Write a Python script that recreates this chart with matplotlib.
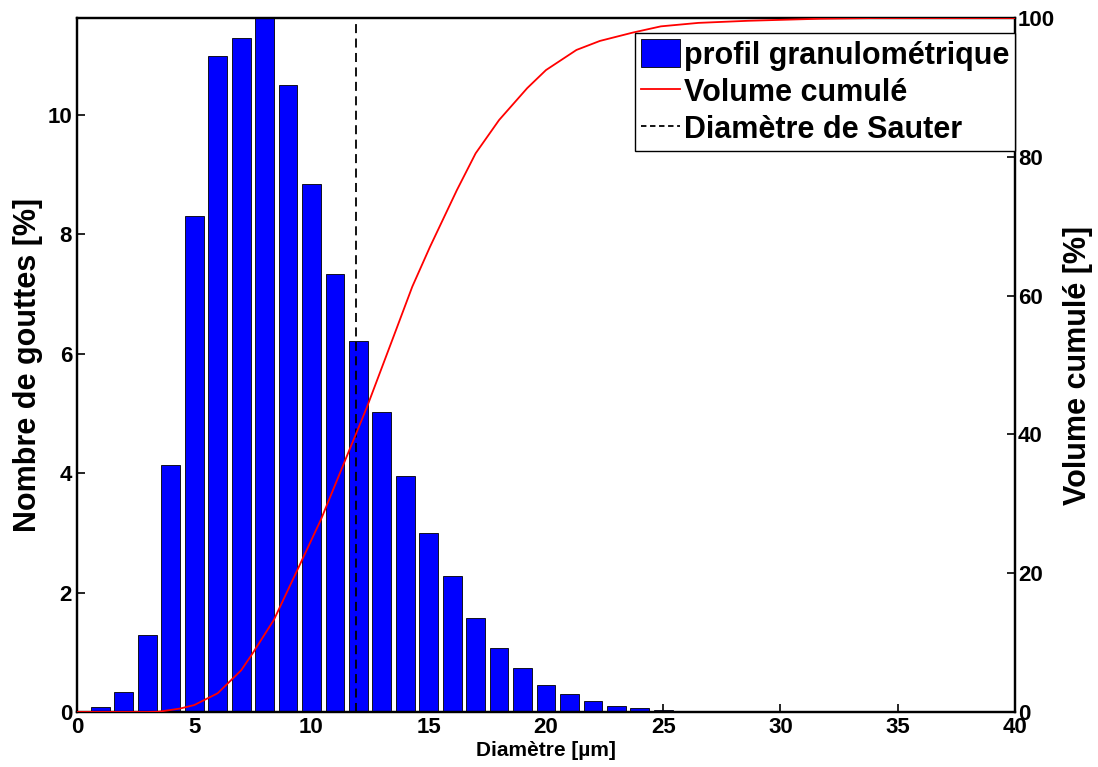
import matplotlib
matplotlib.use('Agg')
import matplotlib.pyplot as plt
from matplotlib.patches import Patch
from matplotlib.lines import Line2D

plt.rcParams['font.family'] = ['Liberation Sans', 'DejaVu Sans']
plt.rcParams['font.weight'] = 'bold'

# histogramme : classe de diamètre (µm) et nombre de gouttes (%)
diametres = list(range(1, 27))
nombre_gouttes = [0.08, 0.34, 1.29, 4.13, 8.30, 10.99, 11.28, 11.62, 10.50, 8.84,
                  7.34, 6.21, 5.03, 3.95, 3.00, 2.28, 1.57, 1.08, 0.73, 0.46,
                  0.30, 0.19, 0.10, 0.06, 0.035, 0.015]

# volume cumulé (%)
x_volume = [0, 3.0, 3.5, 4.4, 5.0, 6.0, 7.0, 7.5, 8.4, 9.5, 10.4, 11.5, 12.35,
            13.5, 14.3, 15.05, 16.2, 17.0, 18.0, 19.2, 20.0, 21.3, 22.3, 23.7,
            24.9, 26.5, 28.6, 31.7, 34.0, 40.0]
volume_cumule = [0, 0, 0.05, 0.5, 1.0, 2.7, 6.0, 8.5, 13.3, 21.2, 27.7, 36.8, 43.8,
                 54.1, 61.3, 67.0, 75.2, 80.5, 85.3, 89.9, 92.5, 95.4, 96.7, 97.9,
                 98.8, 99.3, 99.6, 99.9, 100.0, 100.0]

diametre_sauter = 11.9

fig = plt.figure(figsize=(10.98, 7.67), dpi=100)
ax = fig.add_axes([0.0701, 0.0717, 0.8543, 0.9048])
ax.bar(diametres, nombre_gouttes, width=0.8, color='#0000ff', edgecolor='black',
       linewidth=0.6, zorder=2)
ax.axvline(diametre_sauter, color='black', linestyle='--', linewidth=1.3,
           dashes=(5, 3), zorder=3)
ax.set_xlim(0, 40)
ax.set_ylim(0, max(nombre_gouttes))
ax.set_xticks(range(0, 41, 5))
ax.set_yticks(range(0, 11, 2))
ax.tick_params(direction='in', length=6, width=1.2, labelsize=16)
ax.set_xlabel('Diamètre [µm]', fontsize=15, fontweight='bold', labelpad=2,
              family=['Liberation Sans Narrow', 'Liberation Sans', 'DejaVu Sans'])
ax.set_ylabel('Nombre de gouttes [%]', fontsize=22, fontweight='bold', labelpad=3)

ax2 = ax.twinx()
ax2.plot(x_volume, volume_cumule, color='red', linewidth=1.3, zorder=4)
ax2.set_ylim(0, 100)
ax2.set_yticks(range(0, 101, 20))
ax2.tick_params(direction='in', length=6, width=1.2, labelsize=16, pad=2)
ax2.set_ylabel('Volume cumulé [%]', fontsize=22, fontweight='bold', labelpad=6)

for a in (ax, ax2):
    for s in a.spines.values():
        s.set_linewidth(1.6)

handles = [Patch(facecolor='#0000ff', edgecolor='black', linewidth=0.6),
           Line2D([], [], color='red', linewidth=1.3),
           Line2D([], [], color='black', linestyle='--', linewidth=1.3, dashes=(3, 2))]
labels = ['profil granulométrique', 'Volume cumulé', 'Diamètre de Sauter']
leg = ax2.legend(handles, labels, loc='upper right', bbox_to_anchor=(1.0, 0.978),
                 borderaxespad=0, prop={'weight': 'bold', 'size': 22},
                 fancybox=False, framealpha=1, edgecolor='black',
                 handlelength=1.3, handleheight=1.0, handletextpad=0.1,
                 labelspacing=0.2, borderpad=0.2)
leg.get_frame().set_linewidth(1.0)

fig.savefig('out.png', dpi=100)
